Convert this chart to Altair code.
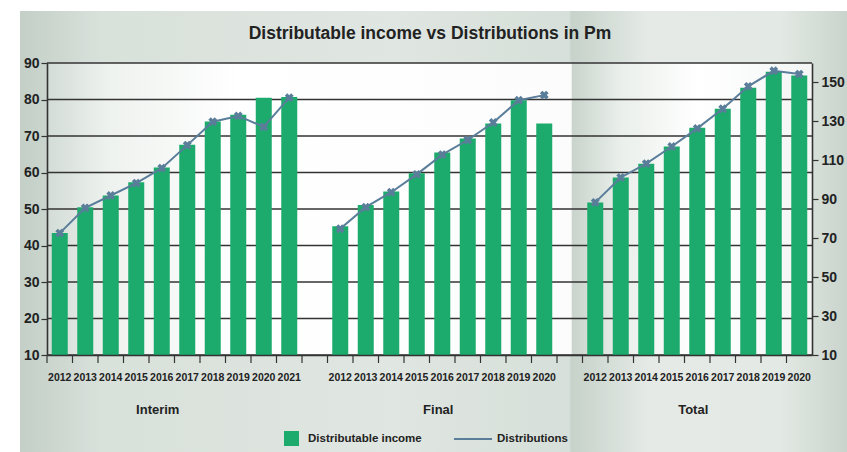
import altair as alt
import pandas as pd

FONT = "Liberation Sans"
GREEN = "#1dab6d"
BLUE = "#5a7d9a"
INK = "#222222"
AX = "#333333"

title_text = "Distributable income vs Distributions in Pm"
interim_years = ["2012", "2013", "2014", "2015", "2016", "2017", "2018", "2019", "2020", "2021"]
final_years = ["2012", "2013", "2014", "2015", "2016", "2017", "2018", "2019", "2020"]
total_years = ["2012", "2013", "2014", "2015", "2016", "2017", "2018", "2019", "2020"]

interim_income = [43.4, 50.5, 53.7, 57.3, 61.4, 67.6, 74.0, 75.8, 80.5, 80.7]
interim_dist = [43.4, 50.3, 53.7, 57.1, 61.2, 67.5, 73.9, 75.5, 72.5, 80.5]
final_income = [45.3, 51.1, 54.8, 59.8, 65.5, 69.3, 73.4, 79.8, 73.4]
final_dist = [44.6, 50.5, 54.6, 59.5, 64.9, 68.9, 73.7, 79.8, 81.2]
total_income = [88.4, 101.2, 108.3, 117.1, 126.8, 136.5, 147.3, 155.5, 153.6]
total_dist = [88.4, 101.2, 108.3, 117.1, 126.4, 136.5, 148.0, 156.0, 154.3]

group_names = ["Interim", "Final", "Total"]
group_anchor = ["I2016", "F2016", "T2016"]
left_ticks = [10, 20, 30, 40, 50, 60, 70, 80, 90]
right_ticks = [10, 30, 50, 70, 90, 110, 130, 150]

keys = ["I" + y for y in interim_years] + ["a"] + ["F" + y for y in final_years] + ["b"] + ["T" + y for y in total_years]

rows = []
for y, inc, d in zip(interim_years, interim_income, interim_dist):
    rows.append({"key": "I" + y, "group": "Interim", "income": inc, "dist": d})
for y, inc, d in zip(final_years, final_income, final_dist):
    rows.append({"key": "F" + y, "group": "Final", "income": inc, "dist": d})
df_left = pd.DataFrame(rows)
df_left["base"] = 10
df_left["s1"] = "Distributable income"
df_left["s2"] = "Distributions"

df_total = pd.DataFrame({"key": ["T" + y for y in total_years], "group": "Total",
                         "income": total_income, "dist": total_dist})
df_total["base"] = 10
df_total["s1"] = "Distributable income"
df_total["s2"] = "Distributions"

W, H = 765, 292

xscale = alt.Scale(domain=keys, paddingInner=0, paddingOuter=0)
xaxis = alt.Axis(title=None, labelExpr="substring(datum.value, 1)",
                 labelAngle=0, tickSize=8, tickOpacity=0, zindex=1,
                 domainColor=AX, domainWidth=1.6,
                 labelFont=FONT, labelFontSize=10.5, labelFontWeight="bold",
                 labelColor=INK, labelPadding=9, grid=False)
xenc = alt.X("key:N", scale=xscale, axis=xaxis)

yleft_scale = alt.Scale(domain=[10, 90], nice=False, zero=False)
yright_scale = alt.Scale(domain=[10, 160], nice=False, zero=False)

fill_scale = alt.Scale(domain=["Distributable income"], range=[GREEN])
stroke_scale = alt.Scale(domain=["Distributions"], range=[BLUE])
fill_legend = alt.Legend(title=None, orient="none", legendX=237, legendY=368, padding=0,
                         symbolType="square", symbolSize=225, symbolStrokeWidth=0, zindex=1,
                         labelFont=FONT, labelFontSize=11.5, labelFontWeight="bold",
                         labelColor=INK, labelOffset=9)
stroke_legend = alt.Legend(title=None, orient="none", legendX=406, legendY=356, padding=0,
                           symbolType="stroke", symbolSize=1444, symbolStrokeWidth=2, zindex=1,
                           labelFont=FONT, labelFontSize=11.5, labelFontWeight="bold",
                           labelColor=INK, labelOffset=4)

# decorative background panel and plot-area shading
panel = alt.Chart(pd.DataFrame({"a": [0]})).mark_rect(
    color=alt.Gradient(gradient="linear", x1=0, x2=1, y1=0, y2=0,
                       stops=[alt.GradientStop(color="#c3cfc7", offset=0),
                              alt.GradientStop(color="#d9e1db", offset=0.1),
                              alt.GradientStop(color="#e0e6e1", offset=0.45),
                              alt.GradientStop(color="#d6dfd9", offset=0.664),
                              alt.GradientStop(color="#c6d2ca", offset=0.667),
                              alt.GradientStop(color="#e5eae6", offset=0.76),
                              alt.GradientStop(color="#e3e9e4", offset=0.92),
                              alt.GradientStop(color="#c9d4cc", offset=1)])
).encode(x=alt.value(-27), x2=alt.value(W + 35), y=alt.value(-52), y2=alt.value(H + 97))

plotbg = alt.Chart(pd.DataFrame({"a": [0]})).mark_rect(
    color=alt.Gradient(gradient="linear", x1=0, x2=1, y1=0, y2=0,
                       stops=[alt.GradientStop(color="#d3dcd6", offset=0),
                              alt.GradientStop(color="#eef2ef", offset=0.08),
                              alt.GradientStop(color="#ffffff", offset=0.25),
                              alt.GradientStop(color="#fbfcfb", offset=0.685),
                              alt.GradientStop(color="#c9d4cc", offset=0.687),
                              alt.GradientStop(color="#eaefeb", offset=0.75),
                              alt.GradientStop(color="#ffffff", offset=0.85),
                              alt.GradientStop(color="#f3f6f4", offset=1)])
).encode(x=alt.value(0), x2=alt.value(W), y=alt.value(0), y2=alt.value(H))

title_layer = alt.Chart(pd.DataFrame({"t": [title_text]})).mark_text(
    font=FONT, fontSize=17.5, fontWeight="bold", color=INK, align="center", baseline="middle"
).encode(x=alt.value(383), y=alt.value(-29), text="t:N")

grid = alt.Chart(pd.DataFrame({"v": left_ticks})).mark_rule(color=AX, strokeWidth=1.5).encode(
    y=alt.Y("v:Q", scale=yleft_scale,
            axis=alt.Axis(title=None, values=left_ticks, grid=False, tickSize=6, tickColor=AX,
                          tickWidth=1.2, domainColor=AX, domainWidth=1.6, labelFont=FONT, zindex=1,
                          labelFontSize=14, labelFontWeight="bold", labelColor=INK, labelPadding=2)))

# category boundary ticks
xticks = alt.Chart(pd.DataFrame({"key": keys})).mark_rule(color=AX, strokeWidth=1.2).encode(
    x=alt.X("key:N", scale=xscale, bandPosition=0, axis=xaxis),
    y=alt.value(H), y2=alt.value(H + 8))

bars_left = alt.Chart(df_left).mark_bar(size=16).encode(
    x=xenc,
    y=alt.Y("income:Q", scale=yleft_scale, axis=None),
    y2="base:Q",
    fill=alt.Fill("s1:N", scale=fill_scale, legend=fill_legend))
line_left = alt.Chart(df_left).mark_line(strokeWidth=2).encode(
    x=xenc, y=alt.Y("dist:Q", scale=yleft_scale, axis=None), detail="group:N",
    stroke=alt.Stroke("s2:N", scale=stroke_scale, legend=stroke_legend))
pts_left = alt.Chart(df_left).mark_point(shape="cross", angle=45, size=80, filled=True,
                                         color=BLUE, opacity=1).encode(
    x=xenc, y=alt.Y("dist:Q", scale=yleft_scale, axis=None))

bars_right = alt.Chart(df_total).mark_bar(size=16).encode(
    x=xenc,
    y=alt.Y("income:Q", scale=yright_scale,
            axis=alt.Axis(title=None, orient="right", values=right_ticks, grid=False, tickSize=6,
                          tickColor=AX, tickWidth=1.2, domainColor=AX, domainWidth=1.6, zindex=1,
                          labelFont=FONT, labelFontSize=14, labelFontWeight="bold",
                          labelColor=INK, labelPadding=3)),
    y2="base:Q",
    fill=alt.Fill("s1:N", scale=fill_scale, legend=fill_legend))
line_right = alt.Chart(df_total).mark_line(strokeWidth=2).encode(
    x=xenc, y=alt.Y("dist:Q", scale=yright_scale, axis=None),
    stroke=alt.Stroke("s2:N", scale=stroke_scale, legend=stroke_legend))
pts_right = alt.Chart(df_total).mark_point(shape="cross", angle=45, size=80, filled=True,
                                           color=BLUE, opacity=1).encode(
    x=xenc, y=alt.Y("dist:Q", scale=yright_scale, axis=None))

glabels = alt.Chart(pd.DataFrame({"name": group_names, "key": group_anchor})).mark_text(
    font=FONT, fontSize=13, fontWeight="bold", color=INK, baseline="middle", dx=-4).encode(
    x=alt.X("key:N", scale=xscale, axis=xaxis), y=alt.value(347), text="name:N")

chart = alt.layer(panel, plotbg, title_layer, grid, xticks, bars_left, line_left, pts_left,
                  bars_right, line_right, pts_right, glabels).resolve_scale(
    y="independent"
).properties(
    width=W, height=H,
    autosize=alt.AutoSizeParams(type="none"),
    padding={"left": 47, "top": 63, "right": 35, "bottom": 97},
    background="white"
).configure_view(stroke=None, fill="white")

chart.save("out.html", embed_options={"renderer": "svg", "actions": False})
